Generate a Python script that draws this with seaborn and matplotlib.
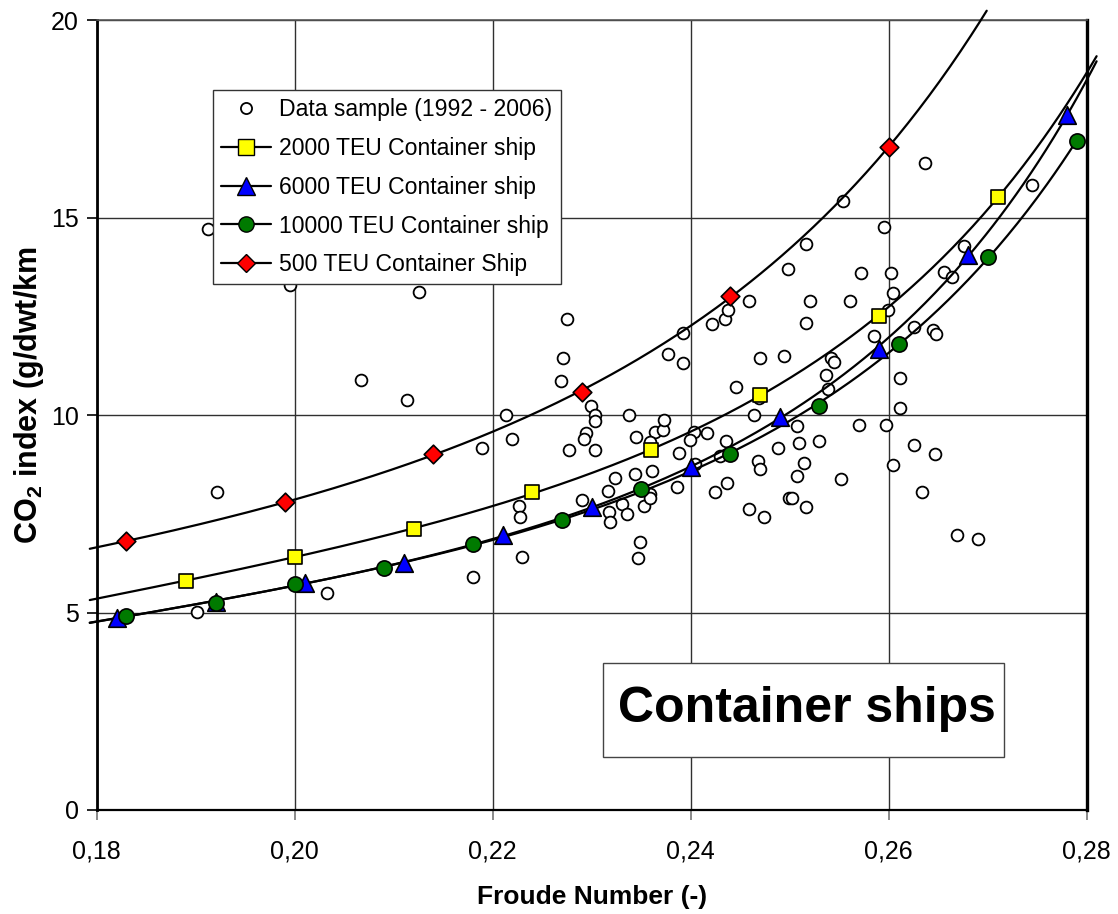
import numpy as np
import pandas as pd
import matplotlib
matplotlib.use("Agg")
import matplotlib.pyplot as plt
from matplotlib.lines import Line2D
from matplotlib.patches import Rectangle
from matplotlib.ticker import FixedLocator, FuncFormatter
import seaborn as sns

# ---------------- data ----------------
sample_x = [0.1912, 0.1995, 0.2126, 0.2067, 0.2113, 0.1922, 0.1901, 0.2033, 0.2180, 0.2189,
            0.2275, 0.2271, 0.2269, 0.2213, 0.2219, 0.2277, 0.2299, 0.2303, 0.2303, 0.2294,
            0.2292, 0.2303, 0.2338, 0.2345, 0.2364, 0.2372, 0.2373, 0.2359, 0.2392, 0.2377,
            0.2392, 0.2422, 0.2435, 0.2438, 0.2459, 0.2470, 0.2494, 0.2446, 0.2469, 0.2464,
            0.2488, 0.2403, 0.2399, 0.2416, 0.2388, 0.2436, 0.2430, 0.2404, 0.2468, 0.2470,
            0.2437, 0.2425, 0.2459, 0.2474, 0.2499, 0.2361, 0.2344, 0.2324, 0.2316, 0.2290,
            0.2227, 0.2228, 0.2317, 0.2318, 0.2331, 0.2336, 0.2353, 0.2359, 0.2359, 0.2386,
            0.2230, 0.2349, 0.2347,
            0.2637, 0.2554, 0.2745, 0.2595, 0.2516, 0.2498, 0.2572, 0.2602, 0.2604, 0.2521,
            0.2561, 0.2516, 0.2599, 0.2585, 0.2676, 0.2656, 0.2664, 0.2626, 0.2645, 0.2648,
            0.2542,
            0.2545, 0.2537, 0.2539, 0.2611, 0.2611, 0.2507, 0.2570, 0.2597, 0.2509, 0.2530,
            0.2514, 0.2507, 0.2552, 0.2502, 0.2516, 0.2626, 0.2647, 0.2604, 0.2634, 0.2669,
            0.2690]
sample_y = [14.71, 13.30, 13.11, 10.89, 10.38, 8.05, 5.01, 5.49, 5.90, 9.16,
            12.42, 11.44, 10.85, 10.00, 9.39, 9.11, 10.23, 10.00, 9.86, 9.54,
            9.39, 9.11, 10.00, 9.45, 9.58, 9.62, 9.87, 9.31, 12.07, 11.54,
            11.31, 12.30, 12.42, 12.66, 12.89, 11.44, 11.49, 10.70, 10.42, 10.00,
            9.16, 9.58, 9.38, 9.54, 9.03, 9.34, 8.96, 8.75, 8.84, 8.64,
            8.28, 8.04, 7.62, 7.43, 7.89, 8.59, 8.51, 8.41, 8.08, 7.85,
            7.70, 7.43, 7.54, 7.30, 7.76, 7.49, 7.70, 7.99, 7.89, 8.17,
            6.41, 6.78, 6.37,
            16.39, 15.41, 15.82, 14.75, 14.33, 13.69, 13.59, 13.59, 13.08, 12.89,
            12.89, 12.34, 12.66, 12.00, 14.29, 13.63, 13.50, 12.24, 12.15, 12.05,
            11.44,
            11.35, 11.02, 10.65, 10.93, 10.18, 9.72, 9.76, 9.76, 9.30, 9.35,
            8.78, 8.46, 8.37, 7.91, 7.66, 9.25, 9.01, 8.73, 8.04, 6.96,
            6.87]

teu2000_x = [0.189, 0.200, 0.212, 0.224, 0.236, 0.247, 0.259, 0.271]
teu2000_y = [5.81, 6.41, 7.11, 8.04, 9.11, 10.51, 12.51, 15.51]

teu6000_x = [0.182, 0.192, 0.201, 0.211, 0.221, 0.230, 0.240, 0.249, 0.259, 0.268, 0.278]
teu6000_y = [4.87, 5.27, 5.75, 6.26, 6.96, 7.66, 8.68, 9.96, 11.67, 14.05, 17.59]

teu10000_x = [0.183, 0.192, 0.200, 0.209, 0.218, 0.227, 0.235, 0.244, 0.253, 0.261, 0.270, 0.279]
teu10000_y = [4.92, 5.25, 5.71, 6.13, 6.73, 7.34, 8.13, 9.01, 10.24, 11.80, 14.01, 16.94]

teu500_x = [0.183, 0.199, 0.214, 0.229, 0.244, 0.260]
teu500_y = [6.81, 7.79, 9.01, 10.58, 13.02, 16.78]

x_ticks = [0.18, 0.20, 0.22, 0.24, 0.26, 0.28]
y_ticks = [0, 5, 10, 15, 20]

labels = ["Data sample (1992 - 2006)", "2000 TEU Container ship", "6000 TEU Container ship",
          "10000 TEU Container ship", "500 TEU Container Ship"]

# ---------------- style ----------------
sns.set_theme(style="white")
plt.rcParams["font.family"] = ["Liberation Sans", "DejaVu Sans"]
plt.rcParams["mathtext.fontset"] = "custom"
plt.rcParams["mathtext.rm"] = "Liberation Sans"
plt.rcParams["mathtext.bf"] = "Liberation Sans:bold"
for k in ["text.color", "axes.labelcolor", "xtick.color", "ytick.color"]:
    plt.rcParams[k] = "black"

fig = plt.figure(figsize=(11.18, 9.14), dpi=100)
ax = fig.add_axes([0.0865, 0.1138, 0.9720 - 0.0865, 0.978 - 0.1138])

# data sample
sns.scatterplot(x=sample_x, y=sample_y, ax=ax, marker="o", s=72, facecolor="white",
                edgecolor="black", linewidth=1.3, zorder=3, legend=False)

# (x, y, marker, colour, size, last x of trendline, highest y of trendline)
series = [
    (teu2000_x, teu2000_y, "s", "#FFFF00", 110, 0.281, 99.0),
    (teu6000_x, teu6000_y, "^", "#0000FF", 160, 0.281, 99.0),
    (teu10000_x, teu10000_y, "o", "#007A00", 120, 0.279, 99.0),
    (teu500_x, teu500_y, "D", "#FF0000", 90, 0.285, 20.25),
]
x_start = 0.1793
for xs, ys, mk, col, sz, x_end, y_cap in series:
    coef = np.polyfit(np.array(xs), np.log(np.array(ys)), 3)
    xx = np.linspace(x_start, x_end, 400)
    yy = np.exp(np.polyval(coef, xx))
    keep = yy <= y_cap
    df = pd.DataFrame({"x": xx[keep], "y": yy[keep]})
    sns.lineplot(data=df, x="x", y="y", ax=ax, color="black", linewidth=1.6,
                 sort=False, estimator=None, zorder=4, legend=False)
    ax.lines[-1].set_clip_on(False)

for xs, ys, mk, col, sz, x_end, y_cap in series:
    sns.scatterplot(x=xs, y=ys, ax=ax, marker=mk, s=sz, color=col, edgecolor="black",
                    linewidth=1.2, zorder=5, legend=False)

ax.set_xlim(0.18, 0.28)
ax.set_ylim(0, 20)
ax.xaxis.set_major_locator(FixedLocator(x_ticks))
ax.yaxis.set_major_locator(FixedLocator(y_ticks))
ax.xaxis.set_major_formatter(FuncFormatter(lambda v, p: f"{v:.2f}".replace(".", ",")))
ax.yaxis.set_major_formatter(FuncFormatter(lambda v, p: f"{v:.0f}"))
ax.grid(True, color="#303030", linewidth=1.0)
ax.set_axisbelow(True)

for side, lw, c in [("left", 2.0, "black"), ("bottom", 1.6, "black"),
                    ("right", 2.4, "black"), ("top", 1.2, "#555555")]:
    ax.spines[side].set_visible(True)
    ax.spines[side].set_linewidth(lw)
    ax.spines[side].set_color(c)

ax.tick_params(axis="y", direction="out", length=7, width=1.2, color="black",
               labelsize=18, pad=6, left=True)
ax.tick_params(axis="x", direction="out", length=7, width=1.2, color="#777777",
               labelsize=18, pad=14, bottom=True)

ax.set_xlabel("Froude Number (-)", fontsize=19, fontweight="bold", labelpad=16)
ax.set_ylabel(r"CO$_\mathbf{2}$ index (g/dwt/km", fontsize=22, fontweight="bold")
ax.yaxis.set_label_coords(-0.051, 0.525)

handles = [
    Line2D([], [], linestyle="none", marker="o", markersize=8, markerfacecolor="white",
           markeredgecolor="black", markeredgewidth=1.3),
    Line2D([], [], color="black", lw=1.6, marker="s", markersize=11,
           markerfacecolor="#FFFF00", markeredgecolor="black"),
    Line2D([], [], color="black", lw=1.6, marker="^", markersize=13,
           markerfacecolor="#0000FF", markeredgecolor="black"),
    Line2D([], [], color="black", lw=1.6, marker="o", markersize=11,
           markerfacecolor="#007A00", markeredgecolor="black"),
    Line2D([], [], color="black", lw=1.6, marker="D", markersize=9.5,
           markerfacecolor="#FF0000", markeredgecolor="black"),
]
leg = ax.legend(handles, labels, loc="upper left", bbox_to_anchor=(0.117, 0.911),
                borderaxespad=0, fontsize=16.6, frameon=True, fancybox=False,
                edgecolor="#333333", framealpha=1, handlelength=2.2, handletextpad=0.35,
                labelspacing=0.68, borderpad=0.35)
leg.get_frame().set_linewidth(1.0)
leg.set_zorder(10)

ax.add_patch(Rectangle((0.5114, 0.0671), 0.9168 - 0.5114, 0.1861 - 0.0671,
                       transform=ax.transAxes, facecolor="white", edgecolor="#444444",
                       linewidth=1.0, zorder=9))
ax.text(0.7169, 0.1118, "Container ships", transform=ax.transAxes, fontsize=36,
        fontweight="bold", ha="center", va="baseline", zorder=10)

fig.savefig("out.png", dpi=100)
